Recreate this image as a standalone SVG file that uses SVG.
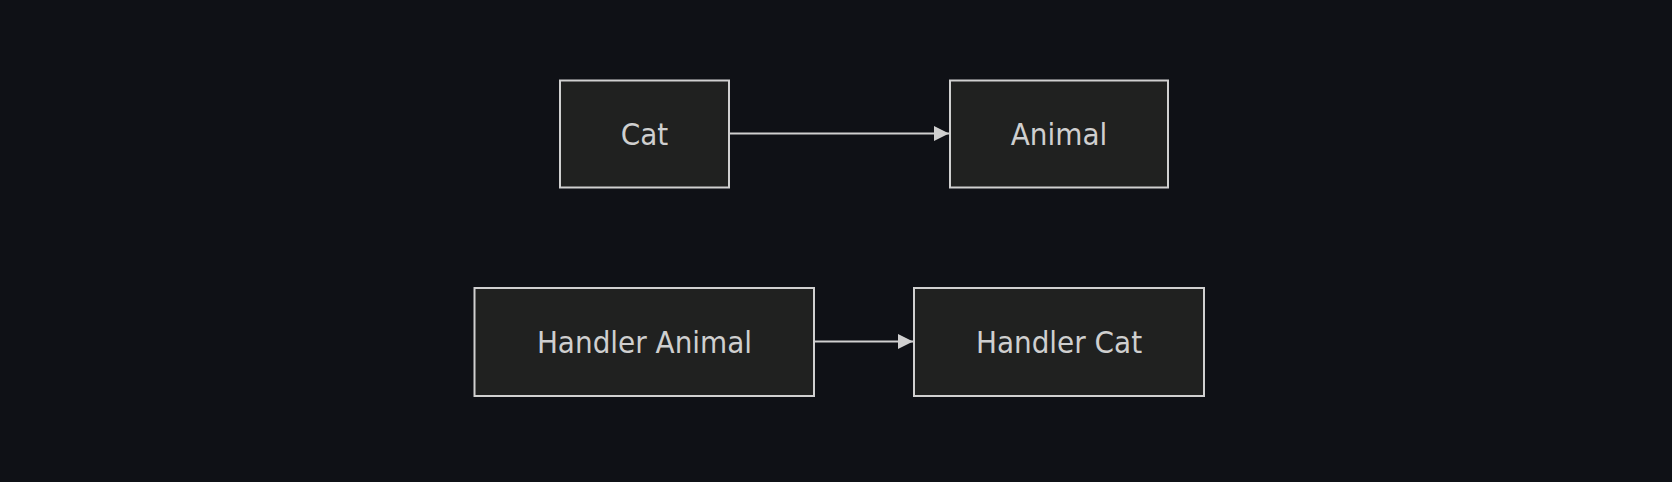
<svg xmlns="http://www.w3.org/2000/svg" width="1672" height="482" viewBox="0 0 1672 482">
  <style>
    .node rect { fill: #202120; stroke: #d0d0d0; stroke-width: 2; }
    .node text { fill: #cfcfcf; font-family: "DejaVu Sans Condensed", "DejaVu Sans", sans-serif; font-stretch: condensed; font-size: 31px; text-anchor: middle; }
    .edge { stroke: #d0d0d0; stroke-width: 2; fill: none; }
  </style>
  <defs>
    <marker id="arrow" viewBox="0 0 10 10" refX="10" refY="5" markerUnits="userSpaceOnUse" markerWidth="15" markerHeight="16" orient="auto">
      <path d="M0,0 L10,5 L0,10 Z" fill="#d0d0d0"/>
    </marker>
  </defs>
  <rect width="1672" height="482" fill="#0f1116"/>
  <g id="connectors">
    <line class="edge" x1="729" y1="133.5" x2="949" y2="133.5" marker-end="url(#arrow)"/>
    <line class="edge" x1="814" y1="341.5" x2="913" y2="341.5" marker-end="url(#arrow)"/>
  </g>
  <g id="cat" class="node">
    <rect x="560" y="80.5" width="169" height="107"/>
    <text x="644.5" y="145">Cat</text>
  </g>
  <g id="animal" class="node">
    <rect x="950" y="80.5" width="218" height="107"/>
    <text x="1059" y="145">Animal</text>
  </g>
  <g id="handler-animal" class="node">
    <rect x="474.5" y="288" width="339.5" height="108"/>
    <text x="644.5" y="353">Handler Animal</text>
  </g>
  <g id="handler-cat" class="node">
    <rect x="914" y="288" width="290" height="108"/>
    <text x="1059" y="353">Handler Cat</text>
  </g>
</svg>
